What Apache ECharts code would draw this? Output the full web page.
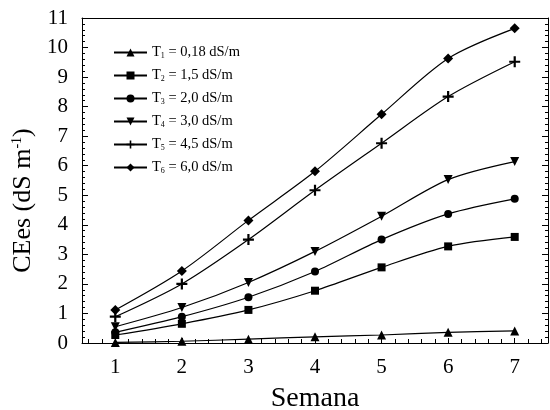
<!DOCTYPE html>
<html>
<head>
<meta charset="utf-8">
<script src="https://cdn.jsdelivr.net/npm/echarts@6/dist/echarts.min.js"></script>
<style>
  html, body { margin: 0; padding: 0; background: #fff; }
  #main { width: 550px; height: 410px; }
</style>
</head>
<body>
<div id="main"></div>
<script>
// semanas (eixo x)
var semanas = [1, 2, 3, 4, 5, 6, 7];
// tratamentos
var tratNum = ['1', '2', '3', '4', '5', '6'];
var tratDose = ['0,18', '1,5', '2,0', '3,0', '4,5', '6,0'];
// CEes por tratamento (dS m-1)
var t1 = [0.02, 0.06, 0.13, 0.21, 0.27, 0.36, 0.41];
var t2 = [0.27, 0.65, 1.12, 1.77, 2.56, 3.27, 3.59];
var t3 = [0.36, 0.89, 1.55, 2.42, 3.50, 4.37, 4.88];
var t4 = [0.55, 1.20, 2.05, 3.10, 4.29, 5.53, 6.14];
var t5 = [0.89, 2.00, 3.50, 5.17, 6.76, 8.34, 9.52];
var t6 = [1.12, 2.44, 4.15, 5.81, 7.74, 9.63, 10.65];
var valores = [t1, t2, t3, t4, t5, t6];

var simbolos = ['triangle', 'rect', 'circle', 'triangle',
  'path://M4,0H6V4H10V6H6V10H4V6H0V4H4Z', 'diamond'];
var tamanhos = [9, 8, 8, 9, 11, 10];
var rotacoes = [0, 0, 0, 180, 0, 0];

var fonte = 'Liberation Serif';

var series = [];
for (var k = 0; k < valores.length; k++) {
  var pts = [];
  for (var j = 0; j < semanas.length; j++) pts.push([semanas[j], valores[k][j]]);
  series.push({
    name: 'T' + tratNum[k] + ' = ' + tratDose[k] + ' dS/m',
    type: 'line',
    smooth: 0.3,
    data: pts,
    symbol: simbolos[k],
    symbolSize: tamanhos[k],
    symbolRotate: rotacoes[k],
    showAllSymbol: true,
    lineStyle: { color: '#000', width: 1.2 },
    itemStyle: { color: '#000' },
    animation: false
  });
}

var chart = echarts.init(document.getElementById('main'));
chart.setOption({
  backgroundColor: '#fff',
  textStyle: { fontFamily: fonte },
  grid: { left: 82, right: 2, top: 18, bottom: 67, outerBoundsMode: 'none', containLabel: false },
  legend: {
    orient: 'vertical',
    left: 108,
    top: 40,
    itemWidth: 33,
    itemHeight: 10,
    itemGap: 8,
    data: series.map(function(s) { return s.name; }),
    formatter: function(name) {
      var n = name.charAt(1);
      return '{t|T}{s|' + n + '}{t|' + name.substring(2) + '}';
    },
    textStyle: {
      fontFamily: fonte,
      color: '#000',
      rich: {
        t: { fontFamily: fonte, fontSize: 14.5, color: '#000' },
        s: { fontFamily: fonte, fontSize: 8, color: '#000', padding: [7, 0, 0, 0] }
      }
    }
  },
  xAxis: [{
    type: 'value',
    min: 0.5,
    max: 7.5,
    splitNumber: 7,
    position: 'bottom',
    name: 'Semana',
    nameLocation: 'middle',
    nameGap: 42,
    nameTextStyle: { fontFamily: fonte, fontSize: 28, color: '#000' },
    axisLine: { show: true, onZero: false, lineStyle: { color: '#000', width: 1 } },
    axisTick: { show: true, inside: true, length: 5, lineStyle: { color: '#000', width: 1 } },
    minorTick: { show: true, splitNumber: 5, length: 4, lineStyle: { color: '#000', width: 1 } },
    axisLabel: {
      margin: 14, fontFamily: fonte, fontSize: 21, color: '#000',
      formatter: function(v) {
        return Math.abs(v - Math.round(v)) < 1e-6 ? String(Math.round(v)) : '';
      }
    },
    splitLine: { show: false }
  }, {
    type: 'value',
    min: 0.5,
    max: 7.5,
    position: 'top',
    axisLine: { show: true, onZero: false, lineStyle: { color: '#000', width: 1 } },
    axisTick: { show: false },
    axisLabel: { show: false },
    splitLine: { show: false }
  }],
  yAxis: [{
    type: 'value',
    min: 0,
    max: 11,
    interval: 1,
    position: 'left',
    name: 'CEes (dS m{sup|-1})',
    nameLocation: 'middle',
    nameGap: 43,
    nameTextStyle: {
      fontFamily: fonte, fontSize: 26, color: '#000',
      padding: [0, 40, 0, 0],
      rich: { sup: { fontFamily: fonte, fontSize: 14, color: '#000', padding: [0, 0, 12, 0] } }
    },
    axisLine: { show: true, onZero: false, lineStyle: { color: '#000', width: 1 } },
    axisTick: { show: true, inside: true, length: 6, lineStyle: { color: '#000' } },
    minorTick: { show: true, splitNumber: 5, length: 3, lineStyle: { color: '#000' } },
    axisLabel: { margin: 14, fontFamily: fonte, fontSize: 21, color: '#000' },
    splitLine: { show: false }
  }, {
    type: 'value',
    min: 0,
    max: 11,
    interval: 1,
    position: 'right',
    axisLine: { show: true, onZero: false, lineStyle: { color: '#000', width: 1 } },
    axisTick: { show: true, inside: true, length: 6, lineStyle: { color: '#000' } },
    minorTick: { show: true, splitNumber: 5, length: 3, lineStyle: { color: '#000' } },
    axisLabel: { show: false },
    splitLine: { show: false }
  }],
  series: series
});
</script>
</body>
</html>
